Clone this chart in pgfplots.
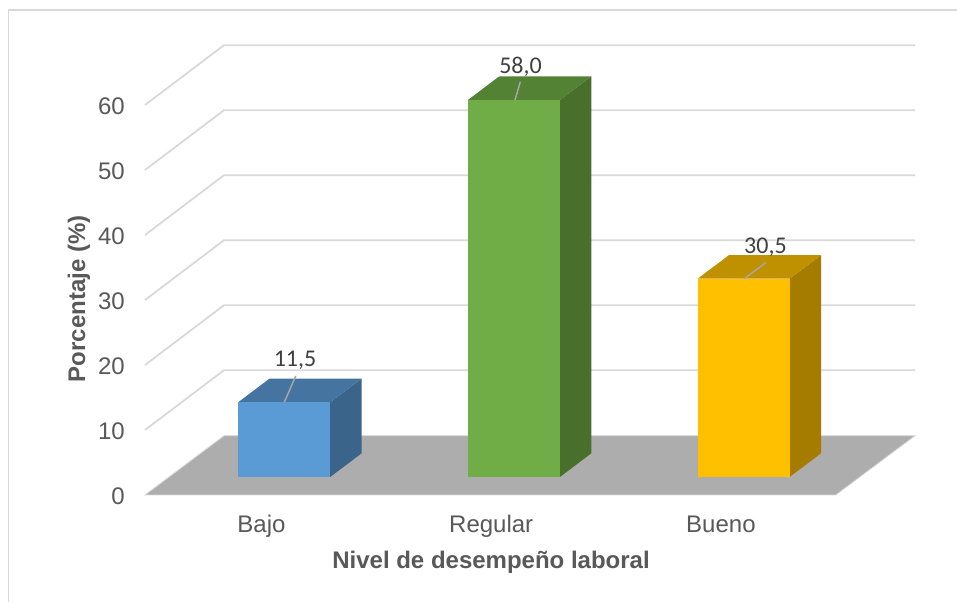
\documentclass[border=0pt]{standalone}
\usepackage{pgfplots}
\pgfplotsset{compat=1.18}
\usepackage{fontspec}
\setmainfont{Liberation Sans}
\newfontfamily\carlito{Carlito}
\definecolor{gridc}{HTML}{D9D9D9}
\definecolor{txt}{HTML}{595959}
\definecolor{floorc}{HTML}{ADADAD}
\definecolor{lead}{HTML}{A6A6A6}
\definecolor{lab}{HTML}{404040}
\definecolor{bluef}{HTML}{5B9BD5}\definecolor{bluet}{HTML}{44749F}\definecolor{blues}{HTML}{3A6489}
\definecolor{greenf}{HTML}{70AD47}\definecolor{greent}{HTML}{548235}\definecolor{greens}{HTML}{496F2D}
\definecolor{yellowf}{HTML}{FFC000}\definecolor{yellowt}{HTML}{BF9000}\definecolor{yellows}{HTML}{A67C00}
\begin{document}
\begin{tikzpicture}[x=1pt,y=1pt]
\useasboundingbox (0,0) rectangle (957,602);
\fill[white] (0,0) rectangle (957,602);
\draw[draw=gridc,line width=1.6pt] (8.5,0) -- (8.5,592) -- (957,592);
% walls, floor and the percentage ticks: y=0 is on the front edge of the floor
\begin{axis}[
  at={(145pt,107pt)},anchor=south west,scale only axis,width=770pt,height=450pt,
  xmin=145,xmax=915,ymin=0,ymax=69.23,clip=false,
  axis line style={draw=none},major tick length=0pt,
  xtick=\empty,ytick={0,10,20,30,40,50,60},
  /pgf/number format/assume math mode=true,
  yticklabel style={font=\fontsize{24}{26}\selectfont,text=txt,inner sep=0pt,anchor=east,xshift=-20pt,yshift=-1.5pt},
  ylabel={Porcentaje (\%)},
  ylabel style={at={(axis description cs:-0.0779,0.4356)},anchor=base,font=\fontsize{24}{26}\selectfont\bfseries,text=txt},
]
\addplot[fill=floorc,draw=gridc,line width=0.8pt] coordinates {(145,0) (224,9.12) (915,9.12) (835.7,0)} --cycle;
\addplot[draw=gridc,line width=1.8pt] coordinates {(145,10) (224,19.2) (915,19.2)};
\addplot[draw=gridc,line width=1.8pt] coordinates {(145,20) (224,29.2) (915,29.2)};
\addplot[draw=gridc,line width=1.8pt] coordinates {(145,30) (224,39.2) (915,39.2)};
\addplot[draw=gridc,line width=1.8pt] coordinates {(145,40) (224,49.2) (915,49.2)};
\addplot[draw=gridc,line width=1.8pt] coordinates {(145,50) (224,59.2) (915,59.2)};
\addplot[draw=gridc,line width=1.8pt] coordinates {(145,60) (224,69.2) (915,69.2)};
\end{axis}
% the bars: y=0 is on the foot of the bars, in the middle of the floor
\begin{axis}[
  at={(145pt,107pt)},anchor=south west,scale only axis,width=770pt,height=450pt,
  xmin=-0.5072,xmax=2.8450,ymin=-2.77,ymax=66.46,clip=false,
  axis line style={draw=none},major tick length=0pt,
  ytick=\empty,xtick={0,1,2},xticklabels={Bajo,Regular,Bueno},
  xticklabel style={font=\fontsize{24}{26}\selectfont,text=txt,anchor=base,inner sep=0pt,yshift=-37.5pt},
  xlabel={Nivel de desempeño laboral},
  xlabel style={at={(axis description cs:0.4494,-0.1640)},anchor=base,font=\fontsize{24}{26}\selectfont\bfseries,text=txt},
]
% Bajo
\addplot[fill=blues,draw=none] coordinates {(0.2990,0) (0.4361,3.65) (0.4361,15.15) (0.2990,11.5)} --cycle;
\addplot[fill=bluet,draw=none] coordinates {(-0.1014,11.5) (0.2990,11.5) (0.4361,15.15) (0.0357,15.15)} --cycle;
\addplot[ybar,bar width=92pt,bar shift=22.7pt,fill=bluef,draw=none] coordinates {(0,11.5)};
% Regular
\addplot[fill=greens,draw=none] coordinates {(1.2990,0) (1.4361,3.65) (1.4361,61.65) (1.2990,58)} --cycle;
\addplot[fill=greent,draw=none] coordinates {(0.8986,58) (1.2990,58) (1.4361,61.65) (1.0357,61.65)} --cycle;
\addplot[ybar,bar width=92pt,bar shift=22.7pt,fill=greenf,draw=none] coordinates {(1,58)};
% Bueno
\addplot[fill=yellows,draw=none] coordinates {(2.2990,0) (2.4361,3.65) (2.4361,34.15) (2.2990,30.5)} --cycle;
\addplot[fill=yellowt,draw=none] coordinates {(1.8986,30.5) (2.2990,30.5) (2.4361,34.15) (2.0357,34.15)} --cycle;
\addplot[ybar,bar width=92pt,bar shift=22.7pt,fill=yellowf,draw=none] coordinates {(2,30.5)};
% leader lines and data labels
\addplot[lead,line width=1.5pt] coordinates {(0.0993,11.5) (0.1489,15.54)};
\addplot[lead,line width=1.5pt] coordinates {(1.1036,58) (1.1267,60.8)};
\addplot[lead,line width=1.5pt] coordinates {(2.1019,30.5) (2.1950,32.97)};
\node[font=\carlito\fontsize{24}{26}\selectfont,text=lab,inner sep=0pt] at (axis cs:0.1458,18.0) {11,5};
\node[font=\carlito\fontsize{24}{26}\selectfont,text=lab,inner sep=0pt] at (axis cs:1.1275,63.1) {58,0};
\node[font=\carlito\fontsize{24}{26}\selectfont,text=lab,inner sep=0pt] at (axis cs:2.1940,35.4) {30,5};
\end{axis}
\end{tikzpicture}
\end{document}
